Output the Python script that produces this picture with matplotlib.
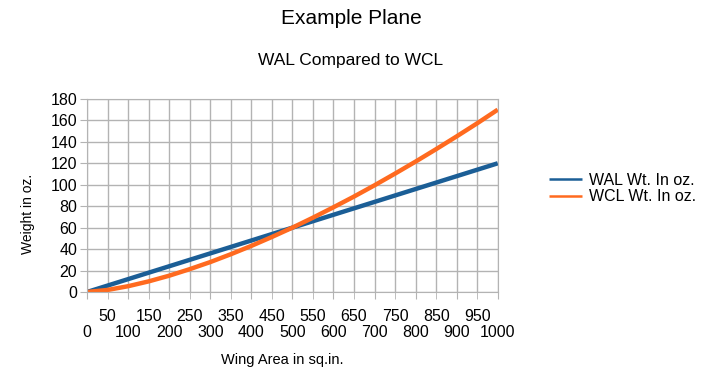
import matplotlib.pyplot as plt
import numpy as np

plt.rcParams['font.family'] = ['Liberation Sans', 'DejaVu Sans']

# wing area (sq.in.)
area = [0, 50, 100, 150, 200, 250, 300, 350, 400, 450, 500,
        550, 600, 650, 700, 750, 800, 850, 900, 950, 1000]
# weight (oz.)
wal = [0, 6, 12, 18, 24, 30, 36, 42, 48, 54, 60,
       66, 72, 78, 84, 90, 96, 102, 108, 114, 120]
wcl = [0, 1.9, 5.4, 9.9, 15.2, 21.3, 27.9, 35.2, 43.0, 51.3, 60.0,
       69.3, 79.0, 89.0, 99.5, 110.4, 121.6, 133.2, 145.1, 157.3, 170.0]

GRID = "#b3b3b3"
BLUE = "#1b5e96"
ORANGE = "#ff6a1f"

fig = plt.figure(figsize=(7.08, 3.77), dpi=100)
ax = fig.add_axes([0.123, 0.2255, 0.580, 0.512])

ax.plot(area, wal, color=BLUE, lw=3.2, label="WAL Wt. In oz.", solid_capstyle="butt")
ax.plot(area, wcl, color=ORANGE, lw=3.2, label="WCL Wt. In oz.", solid_capstyle="butt")

ax.set_xlim(0, 1000)
ax.set_ylim(0, 180)
ax.set_yticks(np.arange(0, 181, 20))

# staggered x labels: hundreds on the lower row, the odd fifties above
major = [a for a in area if a % 100 == 0]
minor = [a for a in area if a % 100 != 0]
ax.set_xticks(major)
ax.set_xticklabels([str(a) for a in major])
ax.set_xticks(minor, minor=True)
ax.set_xticklabels([str(a) for a in minor], minor=True)

ax.tick_params(axis="both", which="both", color=GRID, length=5, labelsize=11.5, pad=2)
ax.tick_params(axis="x", which="minor", pad=7)
ax.tick_params(axis="x", which="major", pad=19)
ax.grid(color=GRID, lw=1, which="both")
ax.set_axisbelow(True)
for s in ax.spines.values():
    s.set_color(GRID)

fig.text(0.496, 0.950, "Example Plane", ha="center", va="center", fontsize=15)
fig.text(0.495, 0.840, "WAL Compared to WCL", ha="center", va="center", fontsize=12.5)
fig.text(0.040, 0.432, "Weight in oz.", rotation=90, ha="center", va="center", fontsize=10)
fig.text(0.398, 0.045, "Wing Area in sq.in.", ha="center", va="center", fontsize=10.5)

leg = fig.legend(loc="center left", bbox_to_anchor=(0.755, 0.5), frameon=False,
                 fontsize=11.5, handlelength=2.1, handletextpad=0.4, labelspacing=0.12)
for h in leg.get_lines():
    h.set_linewidth(1.8)

plt.savefig("out.png")
